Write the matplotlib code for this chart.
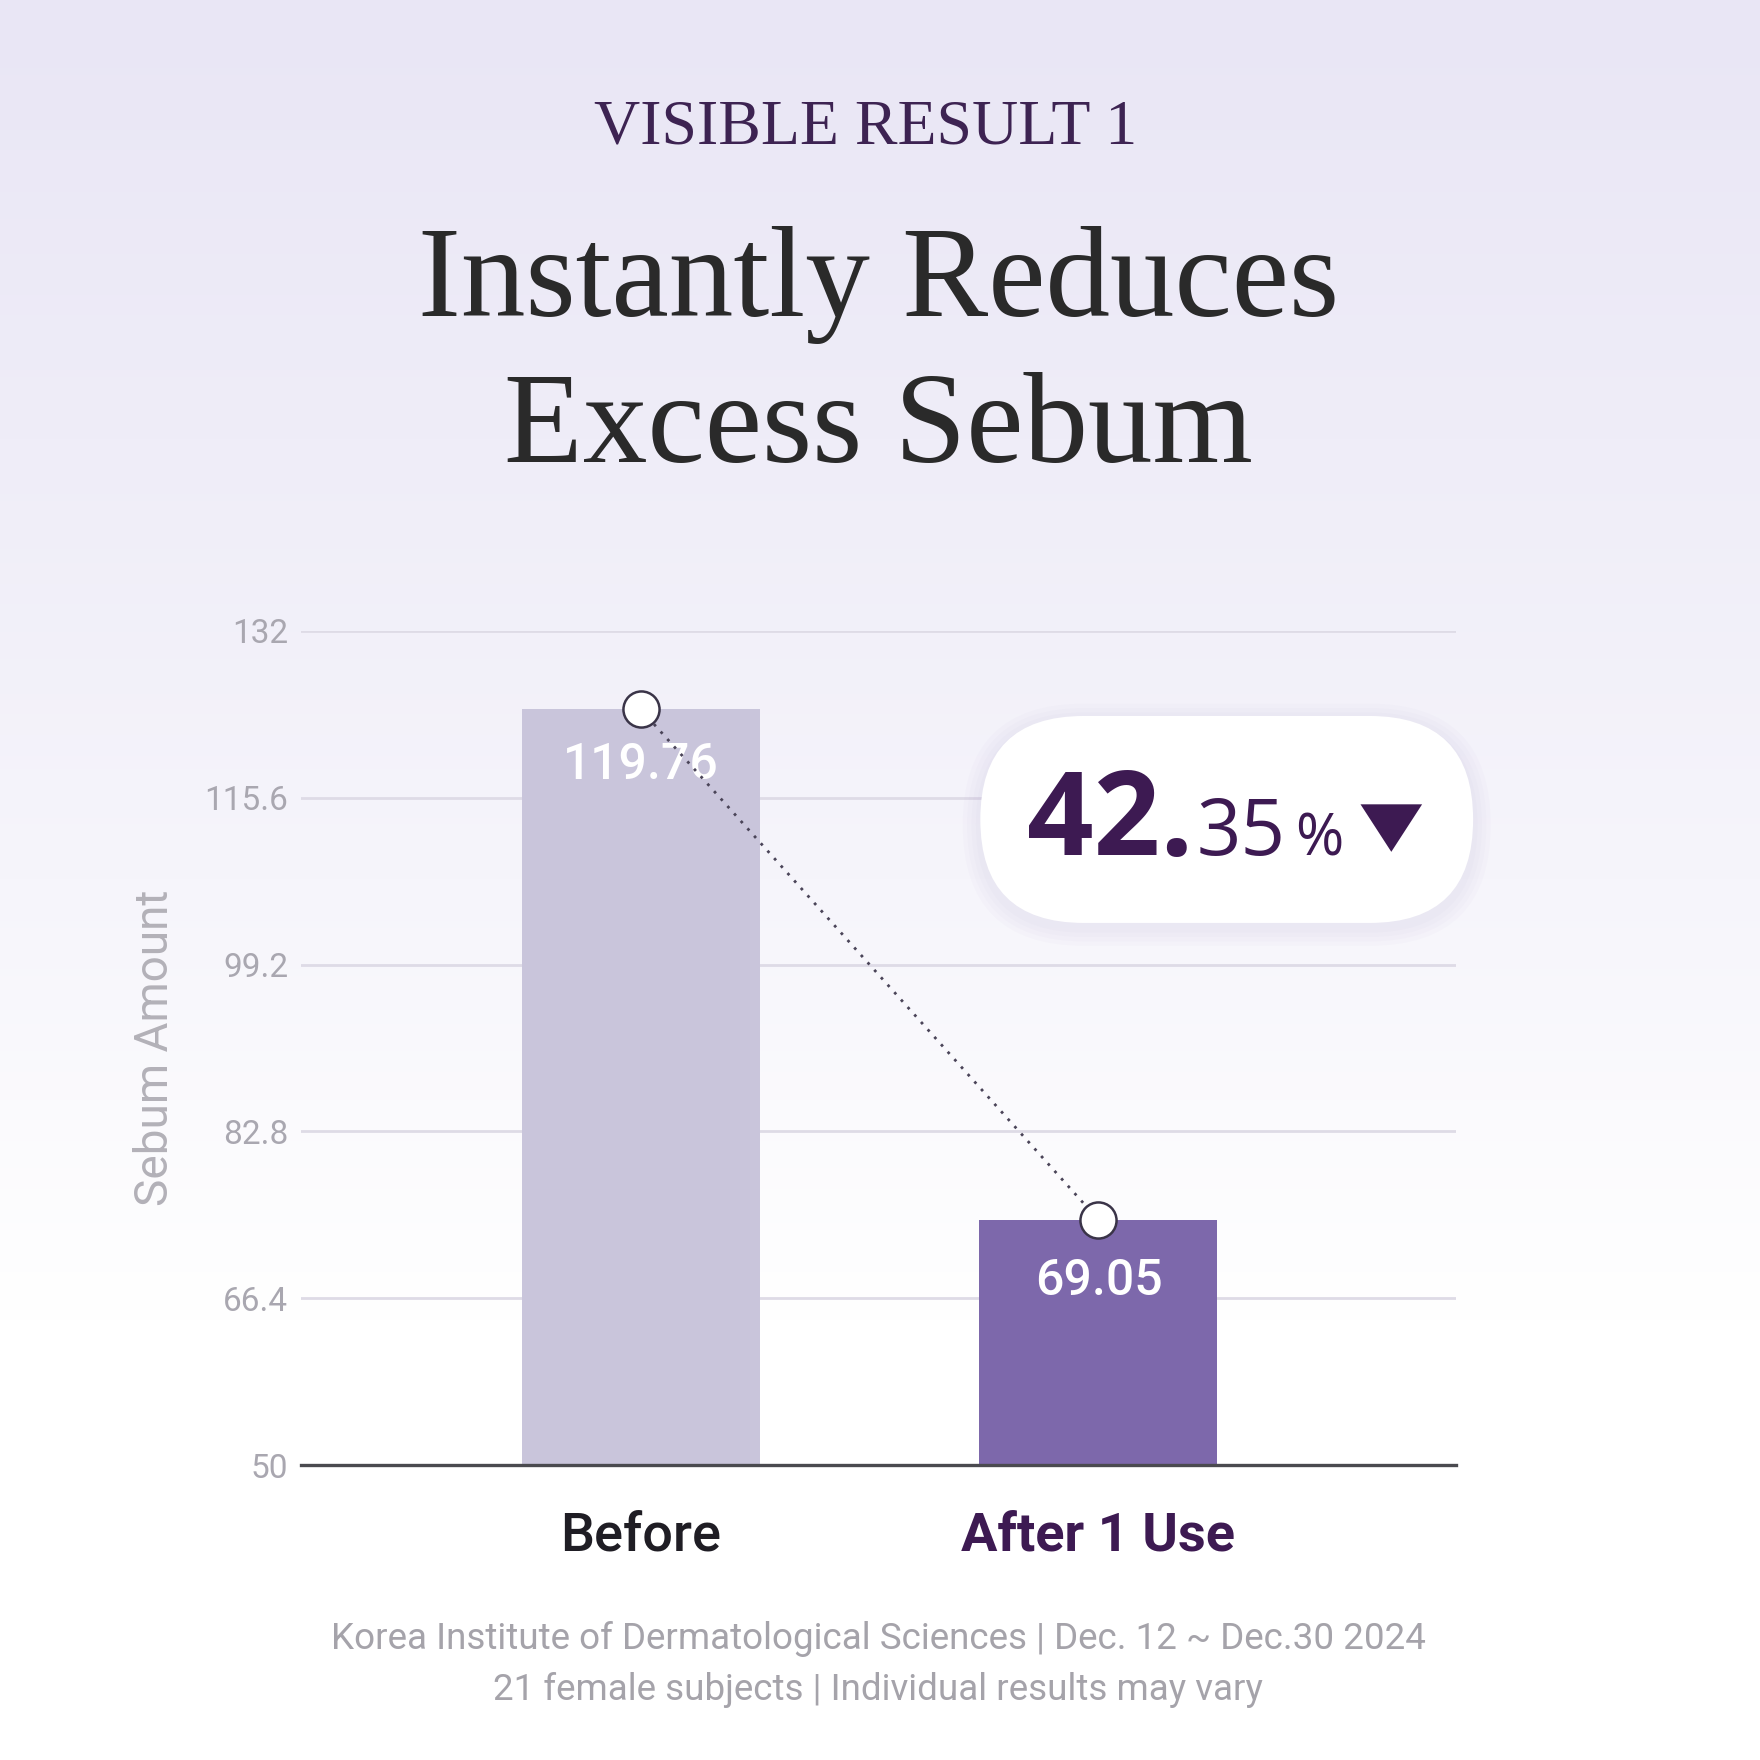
import numpy as np
import matplotlib.pyplot as plt
from matplotlib.patches import FancyBboxPatch, Polygon
from matplotlib.colors import LinearSegmentedColormap

# data
categories = ["Before", "After 1 Use"]
values = [119.76, 69.05]          # printed values
bar_tops = [124.3, 74.1]          # heights as drawn in the picture
yticks = [50, 66.4, 82.8, 99.2, 115.6, 132]
bar_colors = ["#c9c5db", "#7d68ab"]
cat_colors = ["#1f1d24", "#3d1a52"]
reduction_int = "42."
reduction_dec = "35"

plt.rcParams['font.family'] = ['Roboto', 'DejaVu Sans']

fig = plt.figure(figsize=(17.6, 17.6), dpi=100)

# background gradient
bg = fig.add_axes([0, 0, 1, 1], zorder=-10)
cmap = LinearSegmentedColormap.from_list("bg", ["#e9e6f5", "#efedf8", "#f6f5fb", "#ffffff", "#ffffff"])
bg.imshow(np.linspace(0, 1, 256).reshape(-1, 1), aspect='auto', cmap=cmap, extent=[0, 1, 0, 1])
bg.axis('off')

# titles
fig.text(0.492, 0.927, "VISIBLE RESULT 1", ha='center', va='center', fontsize=46,
         color="#3d2352", family='Liberation Serif')
fig.text(0.499, 0.838, "Instantly Reduces", ha='center', va='center', fontsize=93,
         color="#2a2a2a", family='Liberation Serif')
fig.text(0.499, 0.755, "Excess Sebum", ha='center', va='center', fontsize=93,
         color="#2a2a2a", family='Liberation Serif')

# chart
ax = fig.add_axes([0.171, 0.1676, 0.656, 0.4739])
ax.set_facecolor('none')
x = np.arange(len(categories))
ax.bar(x, [t - 50 for t in bar_tops], bottom=50, width=0.52, color=bar_colors, zorder=2)
ax.set_xlim(-0.742, 1.78)
ax.set_ylim(50, 132)
ax.set_yticks(yticks)
ax.set_yticklabels([f"{t:g}" for t in yticks])
ax.tick_params(axis='y', length=0, pad=9, labelsize=24, labelcolor="#a9a7b0")
ax.set_xticks([])
ax.grid(axis='y', color="#dedbe6", linewidth=2, zorder=0)
for s in ['top', 'right', 'left']:
    ax.spines[s].set_visible(False)
ax.spines['bottom'].set_color("#4a4a4f")
ax.spines['bottom'].set_linewidth(2.4)
ax.spines['bottom'].set_zorder(3)
ax.set_ylabel("Sebum Amount", fontsize=33, color="#b3b1b8")
ax.yaxis.set_label_coords(-0.107, 0.5)

# value labels
for xi, v in zip(x, values):
    ax.annotate(f"{v:.2f}", (xi, v), xytext=(0, -7), textcoords='offset points',
                ha='center', va='center', fontsize=36, color='white', fontweight='medium', zorder=4)

# connecting dotted line + markers
ax.plot(x, bar_tops, linestyle=(0, (1.0, 2.6)), color="#4a4458", linewidth=2.0, zorder=5)
ax.plot(x, bar_tops, 'o', markersize=26, markerfacecolor='white', markeredgecolor="#3a3448",
        markeredgewidth=1.8, linestyle='none', zorder=6, clip_on=False)

# category labels
for xi, c, col in zip(x, categories, cat_colors):
    ax.text(xi, -0.085, c, transform=ax.get_xaxis_transform(), ha='center', va='center',
            fontsize=39, color=col, fontweight='bold' if xi == 1 else 'medium')

# badge with soft shadow
bx, by, bw, bh = 0.557, 0.4756, 0.280, 0.1176
for i in range(4):
    g = 0.0025 * (4 - i)
    fig.patches.append(FancyBboxPatch((bx - g, by - g - 0.003), bw + 2 * g, bh + 2 * g,
                                      boxstyle=f"round,pad=0,rounding_size={bh / 2 + g}",
                                      transform=fig.transFigure, facecolor="#a89cd0",
                                      edgecolor='none', alpha=0.035, zorder=7))
fig.patches.append(FancyBboxPatch((bx, by), bw, bh, boxstyle=f"round,pad=0,rounding_size={bh / 2}",
                                  transform=fig.transFigure, facecolor='white', edgecolor='none', zorder=8))

fig.canvas.draw()
r = fig.canvas.get_renderer()
base_y = 0.514
t1 = fig.text(0.5835, base_y, reduction_int, ha='left', va='baseline', fontsize=84, fontweight='bold',
              color="#3d1a52", family=['Open Sans', 'DejaVu Sans'], zorder=9)
ext = t1.get_window_extent(r).transformed(fig.transFigure.inverted())
t2 = fig.text(ext.x1 + 0.002, base_y, reduction_dec, ha='left', va='baseline', fontsize=56,
              color="#3d1a52", family=['Open Sans', 'DejaVu Sans'], zorder=9)
ext = t2.get_window_extent(r).transformed(fig.transFigure.inverted())
t3 = fig.text(ext.x1 + 0.005, base_y, "%", ha='left', va='baseline', fontsize=42,
              color="#3d1a52", family=['Open Sans', 'DejaVu Sans'], zorder=9)
ext = t3.get_window_extent(r).transformed(fig.transFigure.inverted())
# down-pointing triangle
tx0, tw, th = ext.x1 + 0.010, 0.035, 0.027
ty_top = base_y + 0.029
fig.patches.append(Polygon([[tx0, ty_top], [tx0 + tw, ty_top], [tx0 + tw / 2, ty_top - th]],
                           closed=True, transform=fig.transFigure, facecolor="#3d1a52",
                           edgecolor='none', zorder=9))

# footer
fig.text(0.499, 0.069, "Korea Institute of Dermatological Sciences | Dec. 12 ~ Dec.30 2024",
         ha='center', va='center', fontsize=26.5, color="#a5a3aa")
fig.text(0.499, 0.0395, "21 female subjects | Individual results may vary",
         ha='center', va='center', fontsize=26.5, color="#a5a3aa")

fig.savefig("out.png", dpi=100)
